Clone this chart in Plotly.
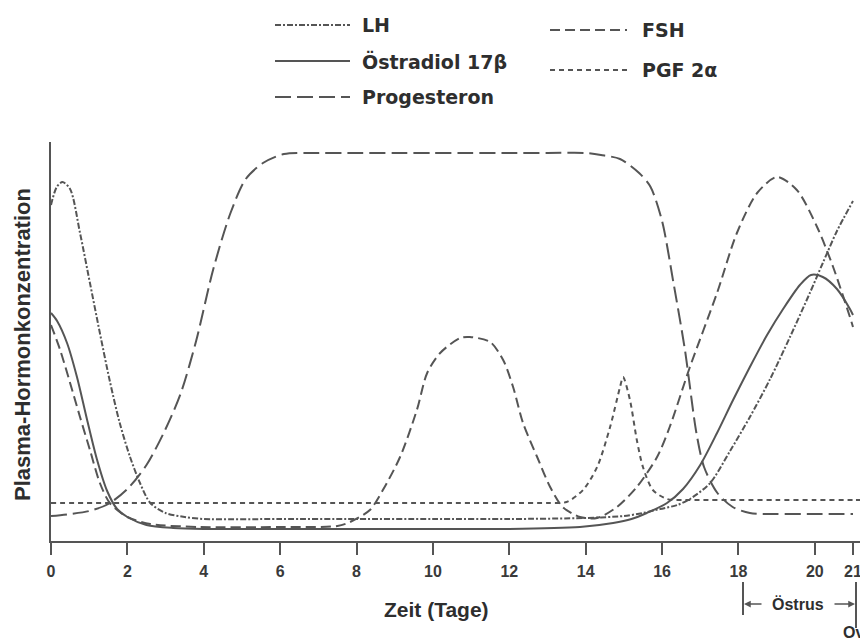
import plotly.graph_objects as go

# ---- data (days, relative concentration) ----
lh_x = [0, 0.15, 0.3, 0.5, 0.76, 1.02, 1.28, 1.54, 1.8, 2.07, 2.33, 2.6, 3.0, 3.5, 4, 6, 8, 10, 12, 14, 15, 15.5,
        15.95, 16.4, 16.73, 17.26, 17.78, 18.3, 18.83, 19.35, 19.87, 20.21, 20.58, 21]
lh_y = [84, 88.5, 89.75, 88, 77, 64.5, 52, 40, 29.5, 21, 14.5, 9.5, 7, 6, 5.5, 5.5, 5.5, 5.5, 5.5, 5.75, 6.25, 7,
        8, 9, 10.5, 14.5, 22.5, 31, 40.5, 51, 62, 69.5, 77.5, 85]

oe_x = [0, 0.16, 0.42, 0.68, 0.94, 1.2, 1.47, 1.73, 2.0, 2.5, 3.2, 4, 6, 8, 10, 12, 13.85, 14.72, 15.2, 15.6,
        16.13, 16.55, 17.0, 17.44, 17.86, 18.3, 18.75, 19.17, 19.61, 19.9, 20.21, 20.58, 20.92, 21]
oe_y = [57, 55, 49.5, 41, 30.5, 20.5, 12.5, 8, 6, 4, 3.25, 3, 3, 3, 3, 3, 3.5, 4.5, 5.5, 7,
        9.5, 13, 19, 27, 35.25, 43.5, 51.5, 58, 64, 66.5, 66, 63, 58, 56.5]

pr_x = [0, 0.5, 1, 1.5, 2, 2.5, 3, 3.4, 3.8, 4.25, 4.7, 5.1, 5.55, 6.1, 7, 8, 9, 10, 11, 12, 13, 14, 14.4,
        14.9, 15.4, 15.7, 16.0, 16.3, 16.6, 16.9, 17.1, 17.45, 17.85, 18.3, 19, 20, 21]
pr_y = [6.25, 6.75, 7.5, 9.25, 13, 19, 28, 37, 50, 68, 82, 90.5, 94.5, 96.75, 97, 97, 97, 97, 97, 97,
        97, 97, 96.5, 95.5, 92, 88.5, 80, 64.5, 47.75, 27, 18.5, 12, 8.5, 7, 6.75, 6.75, 6.75]

fsh_x = [0, 0.24, 0.5, 0.76, 1.02, 1.28, 1.54, 2.0, 2.6, 3.9, 6, 7.5, 7.83, 8.35, 8.69, 9.14, 9.58, 9.85,
         10.19, 10.71, 10.97, 11.5, 11.84, 12.1, 12.36, 12.73, 13.07, 13.4, 13.85, 14.3, 14.82, 15.34, 15.87,
         16.2, 16.73, 17.44, 17.96, 18.49, 19.01, 19.53, 20.06, 20.48, 20.92, 21]
fsh_y = [54, 47.75, 39.5, 31, 22.75, 14.5, 9.5, 6, 4.25, 3.5, 3.5, 3.75, 4.75, 7.75, 12.75, 21, 32.75, 42,
         47, 50.75, 51, 49.75, 45.25, 38.5, 29.5, 21, 13.5, 8.5, 6, 5.75, 8.5, 13.5, 21,
         28.5, 43.5, 62, 77, 87, 91, 87.75, 78.5, 68.5, 56, 53.5]

pgf_x = [0, 2, 4, 6, 8, 10, 12, 13, 13.5, 13.93, 14.3, 14.64, 14.9, 14.98, 15.16, 15.34, 15.5, 15.76, 16.13,
         16.6, 17, 18, 19, 20, 21, 21.2]
pgf_y = [9.5, 9.5, 9.5, 9.5, 9.5, 9.5, 9.5, 9.5, 9.75, 12.75, 18.5, 28.5, 38.5, 41, 35.25, 25.25, 18.5, 12.75,
         10.5, 10.25, 10.25, 10.25, 10.25, 10.25, 10.25, 10.25]

x_ticks = [0, 2, 4, 6, 8, 10, 12, 14, 16, 18, 20, 21]

LINE = "#555555"
TEXT = "#2e2e2e"
FONT = "Liberation Sans, Arial, sans-serif"
WIDE = "DejaVu Sans, Liberation Sans, sans-serif"

DASH = {
    "LH": "6px,2px,2px,2px",
    "Östradiol 17β": "solid",
    "Progesteron": "16px,6px",
    "FSH": "10px,5px",
    "PGF 2α": "5px,4px",
}

fig = go.Figure()
series = [
    ("Progesteron", pr_x, pr_y),
    ("FSH", fsh_x, fsh_y),
    ("PGF 2α", pgf_x, pgf_y),
    ("LH", lh_x, lh_y),
    ("Östradiol 17β", oe_x, oe_y),
]
for name, xs, ys in series:
    fig.add_trace(go.Scatter(
        x=xs, y=ys, name=name, mode="lines",
        line=dict(color=LINE, width=2, dash=DASH[name], shape="spline", smoothing=0.8),
        showlegend=False, hoverinfo="skip"))

# page offset (body margin) and plot-area geometry, in reference page pixels
OFF = 8
W, H = 868 - OFF, 642 - OFF
L, R, T, B = 51, 866, 142, 541


def px(xp):
    return (xp - L) / (R - L)


def py(yp):
    return (B - yp) / (B - T)


fig.update_layout(
    width=W, height=H,
    margin=dict(l=L - OFF, r=(868 - R), t=T - OFF, b=(642 - B)),
    paper_bgcolor="white", plot_bgcolor="white",
    font=dict(family=FONT, color=TEXT),
    xaxis=dict(range=[0, (R - L) / 38.19], tickvals=x_ticks, ticktext=[str(t) for t in x_ticks],
               showgrid=False, zeroline=False, showline=True, linecolor=LINE, linewidth=2,
               ticks="outside", ticklen=12, tickwidth=2, tickcolor=LINE, ticklabelstandoff=3,
               tickfont=dict(size=16, color="#3a3a3a", family=FONT, weight="bold")),
    yaxis=dict(range=[0, 99.75], showgrid=False, zeroline=False, showline=True, linecolor=LINE,
               linewidth=2, showticklabels=False, ticks=""),
)

ann = []
shapes = []
# manual legend
legend_items = [
    ("LH", 275, 350, 360, 25),
    ("Östradiol 17β", 275, 350, 360, 61),
    ("Progesteron", 275, 350, 360, 97),
    ("FSH", 550, 627, 640, 30),
    ("PGF 2α", 550, 627, 640, 70),
]
for name, x0, x1, xt, yy in legend_items:
    shapes.append(dict(type="line", xref="paper", yref="paper", x0=px(x0), x1=px(x1), y0=py(yy), y1=py(yy),
                       line=dict(color=LINE, width=2, dash=DASH[name])))
    ann.append(dict(xref="paper", yref="paper", x=px(xt), y=py(yy), text="<b>" + name + "</b>",
                    showarrow=False, xanchor="left", yanchor="middle",
                    font=dict(size=19, color=TEXT, family=WIDE)))

# axis titles
ann.append(dict(xref="paper", yref="paper", x=px(436), y=py(609), text="<b>Zeit (Tage)</b>",
                showarrow=False, xanchor="center", yanchor="middle", font=dict(size=21, color=TEXT)))
ann.append(dict(xref="paper", yref="paper", x=px(22), y=py(345), text="<b>Plasma-Hormonkonzentration</b>",
                showarrow=False, textangle=-90, xanchor="center", yanchor="middle",
                font=dict(size=22, color=TEXT)))

# Östrus marker
shapes.append(dict(type="line", xref="paper", yref="paper", x0=px(743), x1=px(743), y0=py(582), y1=py(615),
                   line=dict(color=LINE, width=2)))
shapes.append(dict(type="line", xref="paper", yref="paper", x0=px(856), x1=px(856), y0=py(582), y1=py(628),
                   line=dict(color=LINE, width=2)))
ann.append(dict(xref="paper", yref="paper", x=px(744), y=py(604), ax=19, ay=0,
                axref="pixel", ayref="pixel", text="", showarrow=True, arrowhead=2, arrowsize=0.9,
                arrowwidth=1.5, arrowcolor=LINE))
ann.append(dict(xref="paper", yref="paper", x=px(855), y=py(604), ax=-22, ay=0,
                axref="pixel", ayref="pixel", text="", showarrow=True, arrowhead=2, arrowsize=0.9,
                arrowwidth=1.5, arrowcolor=LINE))
ann.append(dict(xref="paper", yref="paper", x=px(798), y=py(604), text="<b>Östrus</b>", showarrow=False,
                xanchor="center", yanchor="middle", font=dict(size=16, color=TEXT)))
ann.append(dict(xref="paper", yref="paper", x=px(866), y=py(632), text="<b>Ov</b>", showarrow=False,
                xanchor="right", yanchor="middle", font=dict(size=16, color=TEXT)))

fig.update_layout(annotations=ann, shapes=shapes)
fig.write_html("out.html")
